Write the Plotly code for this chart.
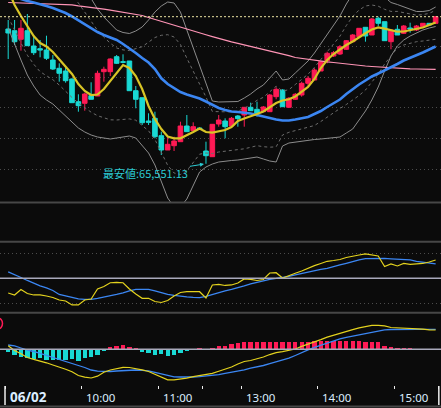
import plotly.graph_objects as go
from plotly.subplots import make_subplots

# 5 minute bars for 06/02: morning 9:00-11:30 (0-30), afternoon 12:30-15:30 (31-67)
bar_no = list(range(68))

opens = [66225, 66216.5, 66173.5, 66216.5, 66140, 66126.5, 66120, 66070, 66028.5, 66015,
         65975, 65861.5, 65853.5, 65891.5, 65890, 66011.5, 66011.5, 66086.5, 66061.5, 66065,
         65916.5, 65881.5, 65765, 65778.5, 65691.5, 65620, 65641.5, 65661.5, 65740, 65716.5,
         65730, 65615, 65586.5, 65750, 65765, 65740, 65790, 65795, 65833.5, 65823.5,
         65811.5, 65811.5, 65886.5, 65920, 65833.5, 65873.5, 65895, 65953.5, 65970, 66015,
         66066.5, 66090, 66100, 66123.5, 66161.5, 66186.5, 66233.5, 66195, 66278.5, 66261.5,
         66161.5, 66223.5, 66203.5, 66230, 66220, 66236.5, 66253.5, 66253.5]
highs = [66270, 66270, 66270, 66300, 66186.5, 66170, 66191.5, 66095, 66053.5, 66036.5,
         65978.5, 65898.5, 65906.5, 65958.5, 66016.5, 66036.5, 66078.5, 66095, 66098.5, 66065,
         65940, 65881.5, 65803.5, 65811.5, 65711.5, 65686.5, 65686.5, 65761.5, 65795, 65758.5,
         65732.5, 65661.5, 65750, 65795, 65778.5, 65785, 65795, 65835, 65856.5, 65861.5,
         65840, 65900, 65933.5, 65923.5, 65885, 65905, 65961.5, 65990, 66028.5, 66065,
         66111.5, 66115, 66145, 66170, 66200, 66230, 66235, 66280, 66286.5, 66261.5,
         66225, 66245, 66245, 66256.5, 66245, 66255, 66255, 66290]
lows = [66075, 66145, 66116.5, 66141.5, 66095, 66083.5, 66070, 66020, 65961.5, 65956.5,
        65856.5, 65811.5, 65816.5, 65873.5, 65890, 65961.5, 65990, 66050, 66053.5, 65916.5,
        65828.5, 65745, 65745, 65678.5, 65595, 65620, 65615, 65661.5, 65711.5, 65716.5,
        65722.5, 65551.13, 65585, 65736.5, 65678.5, 65735, 65736.5, 65736.5, 65815, 65786.5,
        65810, 65810, 65873.5, 65836.5, 65830, 65870, 65886.5, 65940, 65970, 66015,
        66053.5, 66085, 66095, 66120, 66160, 66185, 66161.5, 66195, 66240, 66165,
        66123.5, 66195, 66200, 66206.5, 66215, 66235, 66242.5, 66252.5]
closes = [66205, 66161.5, 66228.5, 66141.5, 66106.5, 66120, 66078.5, 66025, 66003.5, 65966.5,
          65856.5, 65841.5, 65900, 65873.5, 66003.5, 66023.5, 66075, 66053.5, 66058.5, 65916.5,
          65873.5, 65756.5, 65758.5, 65686.5, 65620, 65648.5, 65665, 65740, 65711.5, 65736.5,
          65725, 65591.5, 65748.5, 65770, 65736.5, 65778.5, 65776.5, 65833.5, 65816.5, 65803.5,
          65835, 65895, 65923.5, 65836.5, 65878.5, 65898.5, 65953.5, 65978.5, 66020, 66061.5,
          66103.5, 66106.5, 66136.5, 66166.5, 66195, 66228.5, 66190, 66275, 66253.5, 66166.5,
          66220, 66195, 66240, 66225, 66240, 66253.5, 66245, 66286.5]

# moving averages
ma_short = [66420, 66345, 66290, 66240, 66190, 66155, 66137.5, 66110, 66075, 66040,
            66000, 65950, 65915, 65895, 65897.5, 65925, 65965, 66010, 66045, 66030,
            65990, 65925, 65840, 65775, 65725, 65687.5, 65678.5, 65678.5, 65692.5, 65710,
            65727.5, 65710, 65706.5, 65715, 65720, 65735, 65765, 65777.5, 65787.5, 65800,
            65812.5, 65835, 65855, 65867.5, 65873.5, 65887.5, 65910, 65935, 65975, 66030,
            66070, 66100, 66122.5, 66145, 66162.5, 66185, 66203.5, 66222.5, 66232.5, 66226.5,
            66220, 66211.5, 66212.5, 66218.5, 66223.5, 66232.5, 66245, 66257.5]
ma_mid = [66395, 66385, 66372.5, 66365, 66357.5, 66350, 66340, 66330, 66317.5, 66305,
          66287.5, 66267.5, 66247.5, 66227.5, 66210, 66195, 66182.5, 66170, 66150, 66128.5,
          66105, 66080, 66057.5, 66025, 65978.5, 65950, 65930, 65910, 65897.5, 65887.5,
          65877.5, 65862.5, 65845, 65830, 65820, 65812.5, 65810, 65806.5, 65802.5, 65795,
          65786.5, 65780, 65772.5, 65767.5, 65767.5, 65772.5, 65780, 65785, 65800, 65815,
          65835, 65855, 65872.5, 65900, 65925, 65947.5, 65967.5, 65987.5, 66002.5, 66017.5,
          66032.5, 66050, 66067.5, 66080, 66092.5, 66107.5, 66122.5, 66137.5]
ma_long = [66357.5, 66356.5, 66355.5, 66354.5, 66353.5, 66352.5, 66351.5, 66350.5, 66349.5, 66348,
           66346, 66341, 66337.5, 66333.5, 66329, 66324, 66319, 66313.5, 66308.5, 66303.5,
           66297.5, 66292.5, 66282.5, 66272.5, 66264, 66253.5, 66243.5, 66232.5, 66224, 66215,
           66205, 66196, 66187, 66177.5, 66168.5, 66161, 66153.5, 66146, 66139, 66131.5,
           66123.5, 66116, 66107.5, 66100, 66092, 66082.5, 66077.5, 66072.5, 66068.5, 66065,
           66061, 66057.5, 66053.5, 66050, 66046.5, 66043, 66040, 66037.5, 66035, 66032.5,
           66030, 66028.5, 66027, 66026, 66025, 66024, 66023.5, 66023]

# bollinger bands (outer solid, inner dashed)
bb_upper2 = [66560, 66570, 66580, 66590, 66595, 66595, 66590, 66580, 66570, 66550,
             66520, 66480, 66430, 66380, 66325, 66285, 66250, 66220, 66207.5, 66202.5,
             66215, 66235, 66270, 66310, 66340, 66360, 66355, 66310, 66220, 66130,
             66045, 65955, 65865, 65860, 65860, 65860, 65862.5, 65880, 65900, 65925,
             65945, 65980, 66015, 65970, 65975, 66005, 66035, 66065, 66105, 66150,
             66200, 66240, 66290, 66350, 66400, 66430, 66445, 66440, 66420, 66385,
             66357.5, 66347.5, 66335, 66322.5, 66312.5, 66312.5, 66317.5, 66335]
bb_upper1 = [66505, 66499, 66495, 66491, 66486, 66478.5, 66470, 66458.5, 66445, 66422.5,
             66392.5, 66355, 66310, 66266, 66218.5, 66184, 66154, 66130, 66120.5, 66117,
             66126, 66136.5, 66159, 66182.5, 66193.5, 66196.5, 66185, 66147.5, 66079, 66016,
             65956, 65885, 65812.5, 65810, 65811, 65811, 65814, 65829, 65846.5, 65868.5,
             65883.5, 65911, 65939, 65915, 65921.5, 65947.5, 65973.5, 65999, 66033, 66071,
             66113, 66146.5, 66189, 66242.5, 66287.5, 66320, 66340, 66345, 66339, 66323.5,
             66313, 66313, 66307.5, 66299.5, 66294, 66297, 66303, 66319]
bb_lower1 = [66285, 66216, 66155, 66094, 66049, 66011.5, 65990, 65971.5, 65945, 65912.5,
             65882.5, 65855, 65830, 65809, 65791.5, 65781, 65771, 65770, 65772, 65775.5,
             65769, 65743.5, 65716, 65672.5, 65606.5, 65543.5, 65505, 65497.5, 65516, 65559,
             65599, 65605, 65602.5, 65610, 65614, 65616, 65619, 65626, 65633.5, 65641.5,
             65636.5, 65634, 65636, 65695, 65708.5, 65717.5, 65726.5, 65736, 65742.5, 65762.5,
             65785, 65807.5, 65827.5, 65847.5, 65870, 65892.5, 65920, 65960, 66000, 66050,
             66090, 66130, 66145, 66153.5, 66161.5, 66165, 66170, 66173.5]
bb_lower2 = [66230, 66145, 66070, 65995, 65940, 65895, 65870, 65850, 65820, 65785,
             65755, 65730, 65710, 65695, 65685, 65680, 65675, 65680, 65685, 65690,
             65680, 65645, 65605, 65545, 65460, 65380, 65335, 65335, 65375, 65445,
             65510, 65535, 65550, 65560, 65565, 65567.5, 65570, 65575, 65580, 65585,
             65575, 65565, 65560, 65640, 65655, 65660, 65665, 65670, 65672.5, 65675,
             65677.5, 65680, 65685, 65705, 65725, 65770, 65815, 65870, 65935, 66015,
             66090, 66140, 66170, 66190, 66205, 66220, 66230, 66237.5]

# oscillator panel (0-100)
osc_fast = [32.4, 30, 36.6, 31.8, 30, 30, 28.8, 27, 24, 22.8,
            18, 18, 24, 25.2, 37.2, 40.2, 44.7, 45.2, 44.7, 37.2,
            31.2, 26, 26, 22.2, 21, 23.4, 28.8, 33, 33.9, 33.9,
            33.9, 26.4, 42, 42.8, 41.4, 42, 44.4, 49.2, 48.8, 47.4,
            48.6, 56.4, 56.7, 50.4, 53.6, 56, 58.8, 62.4, 65.2, 67.8,
            70.4, 71.4, 72.6, 75, 76.8, 78, 79.2, 78, 76.8, 64.2,
            67.2, 64.8, 67.8, 66.8, 67.2, 67.8, 69.6, 72]
osc_slow = [57.6, 54.6, 51, 47.4, 43.8, 40.8, 38.4, 35.4, 30.6, 28.8,
            27.2, 25.2, 24.8, 24.8, 25.8, 27.2, 28.8, 30.6, 32.4, 35,
            36.6, 36.8, 36.8, 35, 32.4, 30.6, 29.4, 28.2, 27.6, 27,
            26.7, 28.2, 30.6, 33, 35, 36.6, 38.4, 40.8, 43.2, 45.2,
            47.1, 48.8, 49.8, 50.7, 52.2, 54, 55.8, 57.6, 58.8, 60.6,
            62, 63.6, 66, 68, 70.2, 72, 73.6, 74, 74, 74,
            73.4, 72.8, 72.5, 72, 70.4, 69.6, 68.7, 67.2]

# MACD panel
macd_line = [7, -2.4, -9, -16.4, -20.2, -23.4, -27, -31.4, -35.4, -39.8,
             -45, -52.4, -55.8, -57.4, -53.8, -46, -41.4, -38.4, -36, -36.4,
             -38, -41, -44.4, -50.4, -56.4, -61, -61, -59.8, -57.8, -54.8,
             -53, -50.6, -48, -43.8, -39.8, -35.4, -29.4, -24.4, -22.4, -19,
             -15.4, -10.5, -6.8, -4.8, -2.5, 0.6, 5.8, 10, 13.8, 19.4,
             24.3, 28.4, 31.6, 35.3, 39.4, 42.8, 45, 48, 47.9, 46.7,
             43.6, 42.9, 42, 42, 42, 40.4, 38.7, 38.6]
macd_signal = [8.6, 7, 2.6, -1.8, -4.4, -8.2, -12, -16, -20, -24.4,
               -28.4, -32.4, -36.4, -41.4, -43.8, -44.6, -44.4, -43.4, -42.4, -41.8,
               -41.4, -42, -43, -46, -48.8, -52.2, -55, -55.4, -56, -55.4,
               -54.8, -53.8, -52.8, -50.6, -48.2, -46, -44, -41, -37.8, -35.4,
               -32.4, -28.8, -25.4, -22, -17.8, -12.4, -6, -1.2, 3.8, 8.2,
               13, 17.2, 20.8, 23.8, 26.2, 28.4, 31, 33.6, 36.4, 38.8,
               39.6, 40, 40, 40, 40, 40, 40, 40]
macd_hist = [-4.7, -10, -13.4, -16, -18, -16, -20, -20, -20, -20,
             -18, -21.4, -16, -14.8, -9.4, -2.8, 5.2, 7.2, 9.2, 6.6,
             4.6, -3.4, -5.4, -9.4, -8, -11.4, -9.4, -6, -2.8, 0,
             2.6, 0, 4.6, 8.6, 8.6, 11.3, 13.3, 15.3, 15.3, 15.3,
             15.3, 16.6, 16.6, 15.3, 15.3, 15.3, 15.3, 15.3, 17.3, 18.6,
             18.6, 18.6, 18.6, 18.6, 17.3, 17.3, 15.3, 15.3, 15.3, 8.6,
             6.6, 4.6, 2.6, 2.6, 0, 0, 0, 0]

# axis ticks sit on bar boundaries
tick_pos = [-0.5, 11.5, 23.5, 30.5, 36.5, 48.5, 60.5, 67.5]
tick_text = ["06/02", "10:00", "11:00", "", "13:00", "14:00", "15:00", ""]
session_edges = [-0.5, 30.5, 67.5]
low_label = "最安値:65,551.13"

W, H = 441, 408
BG = "#0b0b0b"
RED = "#ff1a55"
CYAN = "#19d9d4"
YELLOW = "#d8c426"
BLUE = "#3b86f2"
PINK = "#ff94b6"
GRID = "#4c4c4c"
SEP = "#474747"


def py(px):
    # pixel row -> paper y
    return 1 - px / H


fig = make_subplots(rows=4, cols=1, shared_xaxes=True, vertical_spacing=0)

# bands behind the candles
for vals, color, dash in [(bb_upper2, "#8c8c8c", "solid"), (bb_lower2, "#8c8c8c", "solid"),
                          (bb_upper1, "#6c6c6c", "3px,3px"), (bb_lower1, "#6c6c6c", "3px,3px")]:
    fig.add_trace(go.Scatter(x=bar_no, y=vals, mode="lines", hoverinfo="skip",
                             line=dict(color=color, width=1, dash=dash)), row=1, col=1)

fig.add_trace(go.Candlestick(
    x=bar_no, open=opens, high=highs, low=lows, close=closes,
    increasing=dict(line=dict(color=RED, width=1), fillcolor=RED),
    decreasing=dict(line=dict(color=CYAN, width=1), fillcolor=CYAN),
    whiskerwidth=0, hoverinfo="skip"), row=1, col=1)

for vals, color, width in [(ma_long, PINK, 1.2), (ma_mid, BLUE, 2.6), (ma_short, YELLOW, 2.2)]:
    fig.add_trace(go.Scatter(x=bar_no, y=vals, mode="lines", hoverinfo="skip",
                             line=dict(color=color, width=width)), row=1, col=1)

# oscillator
fig.add_trace(go.Scatter(x=bar_no, y=osc_slow, mode="lines", hoverinfo="skip",
                         line=dict(color=BLUE, width=1.3)), row=3, col=1)
fig.add_trace(go.Scatter(x=bar_no, y=osc_fast, mode="lines", hoverinfo="skip",
                         line=dict(color="#e3d21e", width=1.2)), row=3, col=1)

# macd
fig.add_trace(go.Bar(x=bar_no, y=macd_hist, width=0.68, hoverinfo="skip",
                     marker=dict(color=[RED if v > 0 else CYAN for v in macd_hist], line_width=0)),
              row=4, col=1)
fig.add_trace(go.Scatter(x=bar_no, y=macd_signal, mode="lines", hoverinfo="skip",
                         line=dict(color=BLUE, width=1.3)), row=4, col=1)
fig.add_trace(go.Scatter(x=bar_no, y=macd_line, mode="lines", hoverinfo="skip",
                         line=dict(color="#e3d21e", width=1.2)), row=4, col=1)

# reference lines
fig.add_hline(y=closes[-1], line=dict(color="#ece4a2", width=1, dash="2px,2px"), row=1, col=1)
fig.add_hline(y=50, line=dict(color="#a9a9bb", width=1.5), row=3, col=1)
fig.add_hline(y=0, line=dict(color="#a9a9bb", width=1.5), row=4, col=1)

shapes = []
for xv in session_edges:
    shapes.append(dict(type="line", xref="x", yref="paper", x0=xv, x1=xv, y0=py(385), y1=1,
                       line=dict(color="#555555", width=1, dash="1px,3px"), layer="below"))
for row_px in [202.5, 241.7, 312.7, 406.5]:
    shapes.append(dict(type="line", xref="paper", yref="paper", x0=0, x1=1, y0=py(row_px), y1=py(row_px),
                       line=dict(color=SEP, width=2)))
for xv in [tick_pos[0], tick_pos[-1]]:
    shapes.append(dict(type="line", xref="x4", yref="paper", x0=xv, x1=xv, y0=py(405), y1=py(386),
                       line=dict(color="#eeeeee", width=1.5)))
shapes.append(dict(type="circle", xref="paper", yref="paper", x0=-7 / W, x1=2.5 / W,
                   y0=py(329), y1=py(318), line=dict(color=RED, width=1.5)))

annotations = []
for pos, txt in zip(tick_pos, tick_text):
    if not txt:
        continue
    first = txt == tick_text[0]
    annotations.append(dict(
        x=pos, xref="x4", y=py(397), yref="paper", xanchor="left", yanchor="middle",
        xshift=2.5, showarrow=False,
        text="<b>%s</b>" % txt if first else txt,
        font=dict(family="Noto Sans", size=13.5 if first else 11.5, color="#dbeeff")))

i_low = lows.index(min(lows))
annotations.append(dict(
    x=i_low, y=lows[i_low], xref="x", yref="y", text=low_label,
    showarrow=True, ax=-60, ay=9.5, arrowhead=2, arrowsize=0.8, arrowwidth=1,
    arrowcolor="#2ccbd3", standoff=2,
    font=dict(family="Noto Sans CJK JP", size=11, color="#2ccbd3")))

fig.update_layout(
    width=W, height=H, margin=dict(l=0, r=0, t=0, b=0),
    paper_bgcolor=BG, plot_bgcolor=BG, showlegend=False, hovermode=False,
    boxgap=0.1, boxgroupgap=0.2, bargap=0,
    shapes=shapes, annotations=annotations,
    yaxis=dict(domain=[py(202), 1], range=[65360, 66370],
               tickvals=[65522.5, 65677.5, 65832.5, 65985, 66140]),
    yaxis2=dict(domain=[py(241), py(203.5)], range=[0, 1], tickvals=[0.712]),
    yaxis3=dict(domain=[py(312), py(242.5)], range=[9.56, 92.96], tickvals=[20, 80]),
    yaxis4=dict(domain=[py(385), py(313.5)], range=[-71.4, 71.6], tickvals=[-70, 70]),
)
fig.update_yaxes(showgrid=True, gridcolor=GRID, griddash="1px,3px", gridwidth=1,
                 zeroline=False, showline=False, showticklabels=False, ticks="")
fig.update_xaxes(range=[-1.285, 67.84], showgrid=False, zeroline=False, showline=False,
                 showticklabels=False, ticks="", rangeslider_visible=False)
fig.update_xaxes(row=4, col=1, tickvals=tick_pos, ticks="outside", ticklen=3,
                 tickcolor="#eeeeee", tickwidth=1)

# page body has a default margin; drop it so the figure fills the window
fig.write_html("out.html", config={"displayModeBar": False},
               post_script="document.body.style.margin='0';document.body.style.background='%s';" % BG)
